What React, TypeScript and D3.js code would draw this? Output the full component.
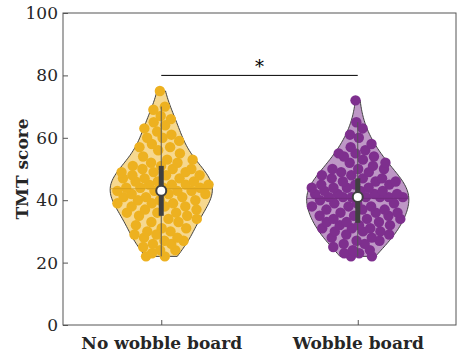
import * as d3 from 'd3';
import React, { useRef, useEffect } from 'react';

const groups = ['No wobble board', 'Wobble board'];
const colors = ['#EDB120', '#7E2F8E'];
const yTicks = [0, 20, 40, 60, 80, 100];

const noWobble = [
  22, 22, 23, 24, 24, 25,
  26, 26, 27, 27, 28, 28, 29, 29, 30,
  30, 31, 31, 32, 33, 33, 34, 34, 35, 35,
  36, 36, 36, 37, 37, 38, 38, 38, 39, 39, 39, 40, 40, 40,
  41, 41, 41, 42, 42, 42, 43, 43, 43, 43, 44, 44, 44, 44, 45, 45, 45, 45,
  46, 46, 46, 47, 47, 47, 48, 48, 48, 49, 49, 49, 50, 50, 50,
  51, 51, 52, 52, 53, 53, 54, 55,
  56, 57, 57, 58, 59, 60, 60,
  61, 62, 63, 64, 65,
  66, 67, 69, 70,
  75,
];

const wobble = [
  22, 22, 23, 23, 24, 24,
  25, 26, 26, 27, 27, 28, 28, 29, 29, 30, 30,
  30, 31, 31, 31, 32, 32, 32, 33, 33, 33, 34, 34, 34, 35, 35,
  35, 36, 36, 36, 37, 37, 37, 38, 38, 38, 39, 39, 39, 41, 41, 41,
  40, 41, 41, 41, 41, 42, 42, 42, 42, 43, 43, 43, 44, 44, 44, 44, 45, 45, 45,
  46, 46, 46, 47, 47, 47, 48, 48, 49, 49, 50, 50, 50,
  51, 52, 52, 53, 54, 54, 55, 55,
  56, 57, 58, 60,
  61, 63,
  65, 72,
];

const W = 457;
const H = 352;
const halfWidth = 0.26;
const bandwidth = 5.5;

function kde(values: number[], grid: number[]) {
  return grid.map((g) =>
    d3.mean(values, (v) => Math.exp(-0.5 * ((g - v) / bandwidth) ** 2)) as number
  );
}

function App() {
  const svgRef = useRef<SVGSVGElement>(null);

  useEffect(() => {
    const svg = d3.select(svgRef.current);
    svg.selectAll('*').remove();

    const x = d3.scaleLinear().domain([0.5, 2.5]).range([63, 456]);
    const y = d3.scaleLinear().domain([0, 100]).range([325, 13]);
    const font = "'DejaVu Serif', serif";

    [noWobble, wobble].forEach((data, gi) => {
      const pos = gi + 1;
      const sorted = data.slice().sort(d3.ascending);
      const lo = sorted[0];
      const hi = sorted[sorted.length - 1];
      const grid = d3.range(0, 101).map((i) => lo + ((hi - lo) * i) / 100);
      const dens = kde(sorted, grid);
      const maxD = d3.max(dens) as number;
      const w = (d: number) => (d / maxD) * halfWidth;
      const densAt = (v: number) => {
        const i = Math.round(((v - lo) / (hi - lo)) * 100);
        return dens[Math.max(0, Math.min(100, i))];
      };

      const g = svg.append('g');
      const area = d3
        .area<number>()
        .y((d, i) => y(grid[i]))
        .x0((d) => x(pos - w(d)))
        .x1((d) => x(pos + w(d)));

      g.append('path')
        .attr('d', area(dens))
        .attr('fill', colors[gi])
        .attr('fill-opacity', 0.5)
        .attr('stroke', 'none');

      g.append('path')
        .attr('d', area(dens) + 'Z')
        .attr('fill', 'none')
        .attr('stroke', '#404040')
        .attr('stroke-width', 1);

      // jittered points, spread by density
      g.selectAll('circle.pt')
        .data(sorted)
        .join('circle')
        .attr('class', 'pt')
        .attr('cx', (v, i) => {
          const j = ((i * 0.618034 + gi * 0.3) % 1) * 2 - 1;
          return x(pos + j * 0.95 * w(densAt(v)));
        })
        .attr('cy', (v) => y(v))
        .attr('r', 5.2)
        .attr('fill', colors[gi]);

      const mean = d3.mean(sorted) as number;
      const mw = w(densAt(mean));
      g.append('line')
        .attr('x1', x(pos - mw))
        .attr('x2', x(pos + mw))
        .attr('y1', y(mean))
        .attr('y2', y(mean))
        .attr('stroke', d3.color(colors[gi])!.darker(0.4).formatHex())
        .attr('stroke-opacity', 0.7)
        .attr('stroke-width', 1);

      const q1 = d3.quantile(sorted, 0.25) as number;
      const q3 = d3.quantile(sorted, 0.75) as number;
      const med = d3.median(sorted) as number;
      const iqr = q3 - q1;
      const wHi = d3.max(sorted.filter((v) => v < q3 + 1.5 * iqr)) as number;
      const wLo = d3.min(sorted.filter((v) => v > q1 - 1.5 * iqr)) as number;

      g.append('line')
        .attr('x1', x(pos))
        .attr('x2', x(pos))
        .attr('y1', y(wHi))
        .attr('y2', y(wLo))
        .attr('stroke', '#555555')
        .attr('stroke-width', 1);

      g.append('rect')
        .attr('x', x(pos) - 2.5)
        .attr('width', 5)
        .attr('y', y(q3))
        .attr('height', y(q1) - y(q3))
        .attr('fill', '#404040');

      g.append('circle')
        .attr('cx', x(pos))
        .attr('cy', y(med))
        .attr('r', 5)
        .attr('fill', '#ffffff')
        .attr('stroke', '#404040')
        .attr('stroke-width', 2);
    });

    // significance bracket
    svg
      .append('line')
      .attr('x1', x(1))
      .attr('x2', x(2))
      .attr('y1', y(80))
      .attr('y2', y(80))
      .attr('stroke', '#000')
      .attr('stroke-width', 1);
    svg
      .append('text')
      .attr('x', x(1.5))
      .attr('y', y(80) - 2)
      .attr('text-anchor', 'middle')
      .style('font-family', font)
      .style('font-size', '18px')
      .text('*');

    // axes
    svg
      .append('rect')
      .attr('x', 63)
      .attr('y', 13)
      .attr('width', 393)
      .attr('height', 312)
      .attr('fill', 'none')
      .attr('stroke', '#555555')
      .attr('stroke-width', 1);

    const yAxis = d3.axisLeft(y).tickValues(yTicks).tickSize(-5).tickPadding(5);
    const ya = svg.append('g').attr('transform', 'translate(63,0)').call(yAxis);
    const xAxis = d3
      .axisBottom(x)
      .tickValues([1, 2])
      .tickFormat((d) => groups[(d as number) - 1])
      .tickSize(-5)
      .tickPadding(12);
    const xa = svg.append('g').attr('transform', 'translate(0,325)').call(xAxis);

    [ya, xa].forEach((a) => {
      a.select('.domain').remove();
      a.selectAll('line').attr('stroke', '#555555');
      a.selectAll('text')
        .attr('fill', '#262626')
        .style('font-family', font)
        .style('font-size', '17px');
    });
    xa.selectAll('text').style('font-weight', 'bold');

    svg
      .append('text')
      .attr('transform', `translate(22,${(y(0) + y(100)) / 2}) rotate(-90)`)
      .attr('text-anchor', 'middle')
      .attr('dy', '0.35em')
      .attr('fill', '#262626')
      .style('font-family', font)
      .style('font-size', '17px')
      .style('font-weight', 'bold')
      .text('TMT score');
  }, []);

  return (
    <svg
      ref={svgRef}
      width={W}
      height={H}
      style={{ position: 'absolute', left: 0, top: 0, background: '#fff' }}
    />
  );
}

export default App;
